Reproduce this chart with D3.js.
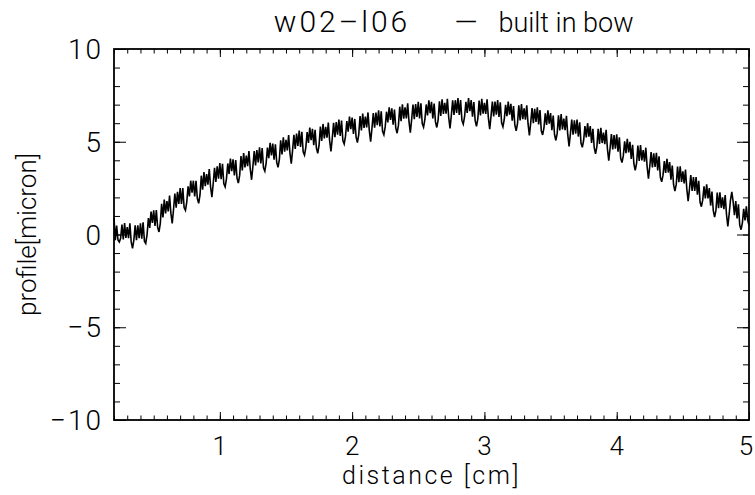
<!DOCTYPE html>
<html>
<head>
<meta charset="utf-8">
<script src="https://cdn.jsdelivr.net/npm/d3@7"></script>
<style>
  body { margin: 0; background: #fff; }
  text { font-family: Roboto, "DejaVu Sans", sans-serif; font-weight: 300; fill: #000; }
</style>
</head>
<body>
<svg id="chart" width="755" height="495"></svg>
<script>
// scan of the wafer profile, one row per 0.1 cm, samples every 0.01 cm
const distanceStart = 0.2;
const distanceStep = 0.01;
const profile = [
  0.9, -0.31, 0.48, -0.3, -0.4, -0.2, 0.54, -0.27, 0.62, -0.19,
  0.4, -0.2, 0.6, -0.4, -0.75, -0.3, 0.5, -0.3, 0.5, -0.2,
  0.6, -0.22, 0.66, -0.36, -0.48, 0.0, 0.88, 0.36, 1.24, 0.62,
  1.3, 0.46, 1.32, 0.38, 0.14, 0.6, 1.66, 0.92, 1.88, 1.14,
  1.8, 1.25, 2.1, 1.15, 0.6, 1.35, 2.2, 1.45, 2.3, 1.65,
  2.5, 1.65, 2.5, 1.45, 1.3, 1.75, 2.6, 2.05, 2.9, 2.25,
  2.9, 2.05, 2.89, 1.94, 1.68, 2.13, 3.17, 2.42, 3.36, 2.61,
  3.25, 2.69, 3.53, 2.57, 2.01, 2.75, 3.59, 2.83, 3.67, 3.01,
  3.85, 2.98, 3.81, 2.74, 2.57, 3.0, 3.83, 3.26, 4.09, 3.42,
  4.05, 3.18, 4.01, 3.04, 2.77, 3.2, 4.23, 3.46, 4.39, 3.62,
  4.25, 3.68, 4.5, 3.53, 2.95, 3.68, 4.5, 3.73, 4.55, 3.88,
  4.7, 3.83, 4.66, 3.59, 3.42, 3.85, 4.68, 4.11, 4.94, 4.27,
  4.9, 4.03, 4.86, 3.89, 3.62, 4.05, 5.08, 4.31, 5.24, 4.47,
  5.1, 4.53, 5.36, 4.39, 3.82, 4.55, 5.38, 4.61, 5.44, 4.77,
  5.6, 4.72, 5.54, 4.46, 4.28, 4.7, 5.52, 4.94, 5.76, 5.08,
  5.7, 4.82, 5.64, 4.66, 4.38, 4.8, 5.82, 5.04, 5.96, 5.18,
  5.8, 5.22, 6.04, 5.06, 4.48, 5.2, 6.02, 5.24, 6.06, 5.38,
  6.2, 5.32, 6.14, 5.06, 4.88, 5.3, 6.12, 5.54, 6.36, 5.68,
  6.3, 5.42, 6.23, 5.25, 4.96, 5.38, 6.39, 5.61, 6.52, 5.74,
  6.35, 5.77, 6.58, 5.6, 5.01, 5.73, 6.54, 5.76, 6.57, 5.89,
  6.7, 5.82, 6.64, 5.56, 5.38, 5.8, 6.62, 6.04, 6.86, 6.18,
  6.8, 5.92, 6.73, 5.75, 5.46, 5.88, 6.89, 6.11, 7.02, 6.24,
  6.85, 6.26, 7.07, 6.08, 5.49, 6.2, 7.01, 6.22, 7.03, 6.34,
  7.15, 6.26, 7.07, 5.98, 5.79, 6.2, 7.01, 6.42, 7.23, 6.54,
  7.15, 6.26, 7.06, 6.07, 5.77, 6.18, 7.18, 6.39, 7.29, 6.5,
  7.1, 6.51, 7.31, 6.32, 5.72, 6.43, 7.23, 6.44, 7.24, 6.55,
  7.35, 6.45, 7.25, 6.15, 5.95, 6.35, 7.15, 6.55, 7.35, 6.65,
  7.25, 6.35, 7.14, 6.14, 5.83, 6.23, 7.22, 6.42, 7.31, 6.51,
  7.1, 6.5, 7.29, 6.29, 5.68, 6.38, 7.17, 6.37, 7.16, 6.46,
  7.25, 6.34, 7.13, 6.02, 5.81, 6.2, 6.99, 6.38, 7.17, 6.46,
  7.05, 6.14, 6.92, 5.91, 5.59, 5.98, 6.96, 6.15, 7.03, 6.22,
  6.8, 6.19, 6.97, 5.96, 5.34, 6.03, 6.81, 6.0, 6.78, 6.07,
  6.85, 5.93, 6.71, 5.59, 5.37, 5.75, 6.53, 5.91, 6.69, 5.97,
  6.55, 5.63, 6.41, 5.39, 5.07, 5.45, 6.43, 5.61, 6.49, 5.67,
  6.25, 5.63, 6.4, 5.38, 4.75, 5.43, 6.2, 5.38, 6.15, 5.43,
  6.2, 5.28, 6.05, 4.93, 4.7, 5.08, 5.85, 5.23, 6.0, 5.28,
  5.85, 4.93, 5.7, 4.68, 4.35, 4.73, 5.7, 4.88, 5.75, 4.93,
  5.5, 4.87, 5.64, 4.61, 3.98, 4.65, 5.42, 4.59, 5.36, 4.63,
  5.4, 4.47, 5.24, 4.11, 3.88, 4.25, 5.02, 4.39, 5.16, 4.43,
  5.0, 4.07, 4.83, 3.8, 3.46, 3.83, 4.79, 3.96, 4.82, 3.99,
  4.55, 3.92, 4.68, 3.65, 3.01, 3.68, 4.44, 3.61, 4.37, 3.64,
  4.4, 3.46, 4.22, 3.08, 2.84, 3.2, 3.96, 3.32, 4.08, 3.34,
  3.9, 2.96, 3.72, 2.68, 2.34, 2.7, 3.66, 2.82, 3.68, 2.84,
  3.4, 2.75, 3.5, 2.45, 1.8, 2.45, 3.2, 2.35, 3.1, 2.35,
  3.1, 2.15, 2.9, 1.75, 1.5, 1.85, 2.6, 1.95, 2.7, 1.95,
  2.5, 1.56, 2.32, 1.28, 0.94, 1.3, 2.26, 1.42, 2.28, 1.44,
  2.0, 1.36, 2.12, 1.08, 0.44, 1.1, 1.86, 2.3, 1.78, 1.04,
  1.8, 0.87, 1.63, 0.5, 0.26, 0.63, 1.39, 0.76, 1.52, 0.79,
  0.5
];

const xMajorTicks = [1, 2, 3, 4, 5];
const yMajorTicks = [-10, -5, 0, 5, 10];
const titleParts = ["w02\u2013l06", "\u2014", "built in bow"];
const xTitle = "distance [cm]";
const yTitle = "profile[micron]";

const margin = { top: 49, right: 6, bottom: 75, left: 114 };
const width = 755, height = 495;

const svg = d3.select("#chart");

const x = d3.scaleLinear().domain([0.2, 5]).range([margin.left, width - margin.right]);
const y = d3.scaleLinear().domain([-10, 10]).range([height - margin.bottom, margin.top]);

const data = profile.map((v, i) => [distanceStart + i * distanceStep, v]);

// the curve
const line = d3.line().x(d => x(d[0])).y(d => y(d[1]));
svg.append("path")
  .datum(data)
  .attr("d", line)
  .attr("fill", "none")
  .attr("stroke", "#000")
  .attr("stroke-width", 1.6);

// ticks on all four sides, pointing inward
const xMinor = d3.range(2, 51).map(d => d / 10);
const yMinor = d3.range(-10, 11);

function ticks(axis, pos, vals, size) {
  svg.append("g")
    .attr("transform", pos)
    .call(axis.tickValues(vals).tickSize(size).tickFormat(""))
    .call(g => g.select(".domain").remove())
    .selectAll("line").attr("stroke", "#000").attr("stroke-width", 1);
}
ticks(d3.axisBottom(x), `translate(0,${y(-10)})`, xMinor, -4.5);
ticks(d3.axisBottom(x), `translate(0,${y(-10)})`, xMajorTicks, -8);
ticks(d3.axisTop(x), `translate(0,${y(10)})`, xMinor, -4.5);
ticks(d3.axisTop(x), `translate(0,${y(10)})`, xMajorTicks, -8);
ticks(d3.axisLeft(y), `translate(${x(0.2)},0)`, yMinor, -6);
ticks(d3.axisLeft(y), `translate(${x(0.2)},0)`, yMajorTicks, -12);
ticks(d3.axisRight(y), `translate(${x(5)},0)`, yMinor, -6);
ticks(d3.axisRight(y), `translate(${x(5)},0)`, yMajorTicks, -12);

// frame
svg.append("rect")
  .attr("x", x(0.2)).attr("y", y(10))
  .attr("width", x(5) - x(0.2)).attr("height", y(-10) - y(10))
  .attr("fill", "none").attr("stroke", "#000").attr("stroke-width", 1.8);

// labels
svg.selectAll(".xl").data(xMajorTicks).join("text")
  .attr("x", d => Math.min(x(d), width - 9)).attr("y", y(-10) + 35)
  .attr("text-anchor", "middle").style("font-size", "26px")
  .text(d => d);

svg.selectAll(".yl").data(yMajorTicks).join("text")
  .attr("x", x(0.2) - 11).attr("y", d => y(d) + 10)
  .attr("text-anchor", "end").style("font-size", "28px")
  .style("letter-spacing", "2px")
  .text(d => d < 0 ? "\u2212" + Math.abs(d) : d);

svg.append("text")
  .attr("x", (x(0.2) + x(5)) / 2).attr("y", height - 11)
  .attr("text-anchor", "middle").style("font-size", "25px")
  .style("letter-spacing", "2.5px")
  .text(xTitle);

svg.append("text")
  .attr("transform", `translate(36,${(y(10) + y(-10)) / 2}) rotate(-90)`)
  .attr("text-anchor", "middle").style("font-size", "26px")
  .text(yTitle);

// title, three pieces spaced out like the original
const titleX = [342, 466, 566];
svg.selectAll(".tt").data(titleParts).join("text")
  .attr("x", (d, i) => titleX[i]).attr("y", 32)
  .attr("text-anchor", "middle")
  .style("font-size", (d, i) => i === 2 ? "27px" : "30px")
  .style("letter-spacing", (d, i) => i === 0 ? "3px" : "0px")
  .text(d => d);
</script>
</body>
</html>
